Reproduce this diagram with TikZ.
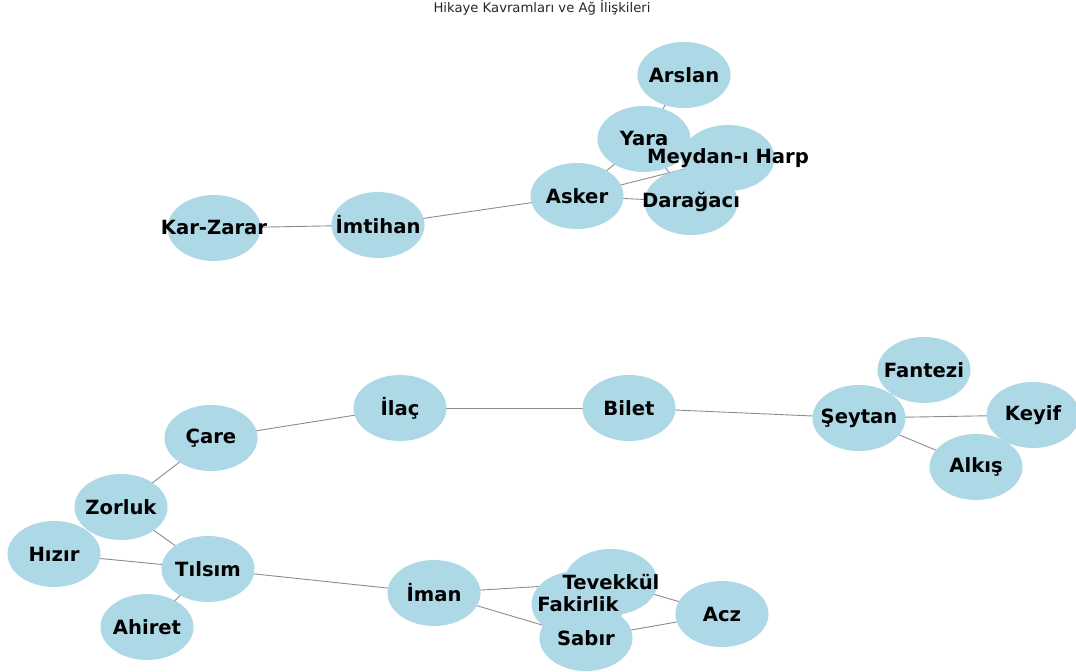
\documentclass[tikz,border=0pt]{standalone}
\usepackage{fontspec}
\setmainfont{DejaVu Sans}
\usetikzlibrary{shapes.geometric, backgrounds}
\definecolor{nodeblue}{HTML}{ADD8E6}

\tikzset{
    bubble/.style={ellipse, fill=nodeblue, minimum width=46.5pt, minimum height=33pt, inner sep=0pt},
    word/.style={font=\fontsize{9.8}{11}\selectfont\bfseries},
    link/.style={black!45, line width=0.45pt}
}

\begin{document}
\begin{tikzpicture}[x=0.5pt, y=-0.5pt]
    \useasboundingbox (0, 0) rectangle (1076, 672);
    \node[font=\fontsize{6.6}{8}\selectfont, text=black!85] (title) at (542, 8) {Hikaye Kavramları ve Ağ İlişkileri};

    % upper group
    \node[bubble] (arslan) at (684, 75) {};
    \node[bubble] (yara) at (644, 139) {};
    \node[bubble] (asker) at (577, 196) {};
    \node[bubble] (daragaci) at (691, 202) {};
    \node[bubble] (meydan) at (728, 158) {};
    \node[bubble] (imtihan) at (378, 225) {};
    \node[bubble] (karzarar) at (214, 228) {};

    % lower group
    \node[bubble] (fantezi) at (924, 370) {};
    \node[bubble] (seytan) at (859, 418) {};
    \node[bubble] (keyif) at (1033, 415) {};
    \node[bubble] (alkis) at (976, 467) {};
    \node[bubble] (bilet) at (629, 408) {};
    \node[bubble] (ilac) at (400, 408) {};
    \node[bubble] (care) at (211, 438) {};
    \node[bubble] (zorluk) at (121, 507) {};
    \node[bubble] (hizir) at (54, 554) {};
    \node[bubble] (tilsim) at (208, 569) {};
    \node[bubble] (ahiret) at (147, 627) {};
    \node[bubble] (iman) at (434, 593) {};
    \node[bubble] (tevekkul) at (611, 582) {};
    \node[bubble] (fakirlik) at (578, 604) {};
    \node[bubble] (sabir) at (586, 638) {};
    \node[bubble] (acz) at (722, 614) {};

    % links, under the bubbles
    \begin{scope}[on background layer]
        \foreach \a/\b in {karzarar/imtihan, imtihan/asker, asker/yara, asker/meydan,
            asker/daragaci, yara/arslan, yara/daragaci,
            zorluk/care, care/ilac, ilac/bilet, bilet/seytan, seytan/fantezi,
            seytan/keyif, seytan/alkis, zorluk/tilsim, hizir/tilsim, ahiret/tilsim,
            tilsim/iman, iman/tevekkul, iman/sabir, tevekkul/acz, sabir/acz}
            \draw[link] (\a.center) -- (\b.center);
    \end{scope}

    % labels on top of everything
    \foreach \n/\t in {arslan/Arslan, yara/Yara, asker/Asker, daragaci/Darağacı,
        meydan/Meydan-ı Harp, imtihan/İmtihan, karzarar/Kar-Zarar,
        fantezi/Fantezi, seytan/Şeytan, keyif/Keyif, alkis/Alkış, bilet/Bilet,
        ilac/İlaç, care/Çare, zorluk/Zorluk, hizir/Hızır, tilsim/Tılsım,
        ahiret/Ahiret, iman/İman, tevekkul/Tevekkül, fakirlik/Fakirlik,
        sabir/Sabır, acz/Acz}
        \node[word] (\n-text) at (\n) {\t};
\end{tikzpicture}
\end{document}
